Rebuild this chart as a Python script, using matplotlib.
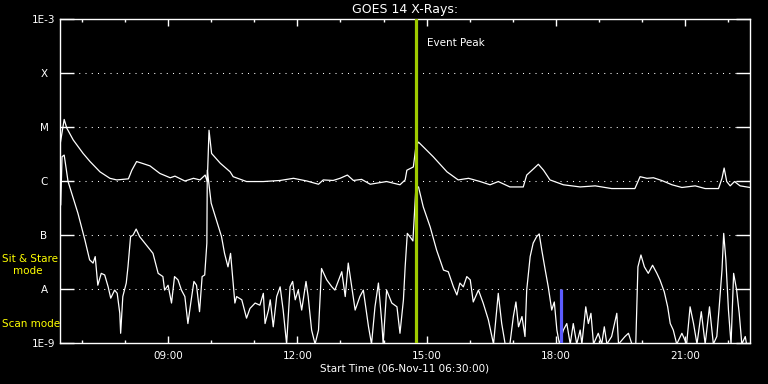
import numpy as np
import matplotlib
matplotlib.use("Agg")
import matplotlib.pyplot as plt
from matplotlib.ticker import FixedLocator, NullLocator

# ---- data (time in decimal hours on 06-Nov-11, flux as log10 W/m^2) ----
long_t = [6.50, 6.59, 6.65, 6.80, 7.03, 7.19, 7.42, 7.65, 7.81, 8.08, 8.16, 8.27, 8.39, 8.58,
          8.81, 9.05, 9.16, 9.39, 9.59, 9.74, 9.86, 9.91, 9.95, 10.01, 10.21, 10.44, 10.51,
          10.82, 11.21, 11.60, 11.91, 12.22, 12.49, 12.60, 12.83, 12.99, 13.16, 13.30, 13.49,
          13.69, 13.84, 14.07, 14.38, 14.50, 14.54, 14.69, 14.75, 14.81, 15.15, 15.47, 15.73,
          15.97, 16.24, 16.47, 16.66, 16.93, 17.24, 17.32, 17.47, 17.59, 17.71, 17.86, 18.17,
          18.56, 18.91, 19.29, 19.83, 19.95, 20.11, 20.26, 20.45, 20.69, 20.92, 21.23, 21.46,
          21.77, 21.85, 21.90, 21.96, 22.04, 22.14, 22.27, 22.50]
long_logflux = [-5.30, -4.86, -5.02, -5.24, -5.49, -5.64, -5.83, -5.95, -5.98, -5.96, -5.80, -5.64,
                -5.67, -5.72, -5.86, -5.94, -5.91, -6.00, -5.95, -5.98, -5.89, -6.01, -5.06, -5.49,
                -5.67, -5.83, -5.92, -6.01, -6.01, -5.99, -5.95, -6.00, -6.06, -5.98, -5.99, -5.95,
                -5.89, -5.99, -5.97, -6.06, -6.04, -6.01, -6.07, -5.98, -5.80, -5.74, -5.36, -5.28,
                -5.55, -5.83, -5.98, -5.95, -6.01, -6.07, -6.01, -6.11, -6.11, -5.89, -5.78, -5.69,
                -5.80, -5.98, -6.07, -6.11, -6.09, -6.14, -6.14, -5.92, -5.95, -5.94, -5.99, -6.07,
                -6.12, -6.09, -6.14, -6.14, -5.95, -5.76, -6.01, -6.09, -6.01, -6.09, -6.12]

short_t = [6.51, 6.54, 6.59, 6.64, 6.68, 6.79, 6.91, 7.07, 7.18, 7.26, 7.31, 7.37, 7.45, 7.53,
           7.61, 7.67, 7.76, 7.82, 7.88, 7.90, 7.95, 8.03, 8.07, 8.13, 8.19, 8.26, 8.34, 8.46,
           8.65, 8.77, 8.88, 8.92, 9.00, 9.08, 9.15, 9.23, 9.31, 9.39, 9.46, 9.53, 9.60, 9.66,
           9.73, 9.79, 9.85, 9.90, 9.91, 10.00, 10.12, 10.24, 10.31, 10.39, 10.45, 10.51, 10.55,
           10.59, 10.71, 10.82, 10.90, 11.02, 11.13, 11.21, 11.25, 11.33, 11.37, 11.44, 11.52,
           11.60, 11.67, 11.75, 11.83, 11.89, 11.95, 12.02, 12.10, 12.20, 12.25, 12.33, 12.41,
           12.49, 12.56, 12.68, 12.80, 12.87, 13.03, 13.11, 13.18, 13.26, 13.34, 13.45, 13.53,
           13.65, 13.72, 13.80, 13.88, 13.96, 13.99, 14.07, 14.19, 14.31, 14.38, 14.46, 14.50,
           14.55, 14.61, 14.68, 14.73, 14.75, 14.81, 14.92, 15.08, 15.23, 15.39, 15.50, 15.62,
           15.70, 15.77, 15.85, 15.93, 16.01, 16.08, 16.20, 16.31, 16.43, 16.55, 16.66, 16.74,
           16.82, 16.93, 17.01, 17.07, 17.13, 17.21, 17.28, 17.32, 17.40, 17.47, 17.55, 17.61,
           17.67, 17.75, 17.82, 17.90, 17.96, 18.02, 18.08, 18.17, 18.25, 18.33, 18.40, 18.48,
           18.56, 18.60, 18.69, 18.75, 18.81, 18.87, 18.98, 19.06, 19.12, 19.18, 19.29, 19.41,
           19.45, 19.60, 19.68, 19.76, 19.85, 19.90, 19.97, 20.05, 20.14, 20.24, 20.34, 20.41,
           20.51, 20.59, 20.65, 20.72, 20.80, 20.92, 21.03, 21.11, 21.19, 21.27, 21.37, 21.46,
           21.56, 21.65, 21.73, 21.78, 21.85, 21.89, 21.94, 22.00, 22.06, 22.12, 22.19, 22.25,
           22.31, 22.39, 22.42]
short_logflux = [-6.44, -5.55, -5.52, -5.80, -6.01, -6.29, -6.60, -7.09, -7.46, -7.52, -7.40, -7.93,
                 -7.71, -7.74, -7.96, -8.17, -8.02, -8.08, -8.45, -8.82, -8.14, -7.89, -7.59, -7.03,
                 -7.00, -6.89, -7.03, -7.15, -7.34, -7.71, -7.77, -8.02, -7.93, -8.26, -7.77, -7.83,
                 -8.02, -8.14, -8.64, -8.24, -7.86, -7.93, -8.42, -7.77, -7.74, -7.15, -5.80, -6.41,
                 -6.72, -7.03, -7.34, -7.59, -7.34, -7.89, -8.26, -8.14, -8.20, -8.54, -8.36, -8.26,
                 -8.30, -8.08, -8.64, -8.39, -8.20, -8.70, -8.14, -7.96, -8.39, -9.02, -7.96, -7.86,
                 -8.20, -8.02, -8.39, -7.86, -8.14, -8.76, -9.02, -8.76, -7.62, -7.83, -7.96, -8.02,
                 -7.68, -8.14, -7.52, -7.96, -8.39, -8.14, -8.02, -8.70, -9.02, -8.33, -7.89, -8.64,
                 -9.02, -8.02, -8.26, -8.33, -8.82, -8.20, -7.59, -6.97, -7.03, -7.11, -6.41, -6.11,
                 -6.11, -6.48, -6.85, -7.28, -7.65, -7.68, -7.96, -8.11, -7.89, -7.96, -7.77, -7.83,
                 -8.24, -8.02, -8.26, -8.57, -9.02, -8.08, -8.64, -9.02, -9.02, -8.51, -8.24, -8.70,
                 -8.51, -8.88, -8.02, -7.40, -7.15, -7.03, -6.98, -7.28, -7.65, -7.96, -8.39, -8.24,
                 -8.76, -9.02, -8.76, -8.64, -9.02, -8.64, -9.02, -8.76, -9.02, -8.33, -8.64, -8.45,
                 -9.02, -8.82, -9.02, -8.70, -9.02, -8.88, -8.45, -9.02, -8.88, -8.82, -9.02, -9.02,
                 -7.59, -7.37, -7.59, -7.71, -7.56, -7.71, -7.83, -8.05, -8.33, -8.64, -8.76, -9.02,
                 -8.82, -9.02, -8.33, -8.64, -9.02, -8.42, -9.02, -8.33, -9.02, -8.88, -8.39, -7.65,
                 -6.97, -7.46, -8.39, -9.02, -7.71, -8.02, -8.45, -9.02, -8.88, -9.02]

event_peak_t = 14.76
scan_marker_t = 18.12
scan_marker_top = 1e-8

y_levels = [1e-9, 1e-8, 1e-7, 1e-6, 1e-5, 1e-4, 1e-3]
y_labels = ["1E-9", "A", "B", "C", "M", "X", "1E-3"]
x_major = [9, 12, 15, 18, 21]
x_labels = ["09:00", "12:00", "15:00", "18:00", "21:00"]
x_minor = list(range(7, 23))

# ---- figure ----
W, H = 768, 384
fig = plt.figure(figsize=(W / 100, H / 100), dpi=100, facecolor="black")
ax = fig.add_axes([60.3 / W, 1 - 343 / H, (750 - 60.3) / W, (343 - 19) / H], facecolor="black")

ax.set_yscale("log")
ax.set_ylim(1e-9, 1e-3)
ax.set_xlim(6.5, 22.5)

ax.plot(long_t, 10 ** np.array(long_logflux), color="white", lw=0.9, zorder=3)
ax.plot(short_t, 10 ** np.array(short_logflux), color="white", lw=0.9, zorder=3)

ax.axvline(event_peak_t, color="#9fcb00", lw=2.3, zorder=4)
ax.vlines(scan_marker_t, 1e-9, scan_marker_top, color="#5c5cff", lw=2.3, zorder=4)

# grid
for lv in y_levels[1:-1]:
    ax.axhline(lv, color="white", lw=0.75, ls=(0, (1, 5)), zorder=1)

for s in ax.spines.values():
    s.set_color("white")
    s.set_linewidth(1.0)

ax.yaxis.set_major_locator(FixedLocator(y_levels))
ax.yaxis.set_minor_locator(NullLocator())
ax.set_yticklabels(y_labels)
ax.xaxis.set_major_locator(FixedLocator(x_major))
ax.xaxis.set_minor_locator(FixedLocator(x_minor))
ax.set_xticklabels(x_labels)

ax.tick_params(axis="y", which="major", direction="in", length=10, width=1.0, color="white",
               left=True, right=True, labelcolor="white", labelsize=7.5, pad=11.7)
ax.tick_params(axis="x", which="major", direction="in", length=5, width=1.0, color="white",
               top=True, bottom=True, labelcolor="white", labelsize=7.5, pad=6)
ax.tick_params(axis="x", which="minor", direction="in", length=2.5, width=1.0, color="white",
               top=True, bottom=True)
for lab in ax.get_yticklabels():
    lab.set_horizontalalignment("center")

# texts
fig.text(405 / W, 1 - 9.5 / H, "GOES 14 X-Rays:", color="white", fontsize=9,
         ha="center", va="center")
fig.text(405 / W, 1 - 368.5 / H, "Start Time (06-Nov-11 06:30:00)", color="white",
         fontsize=7.5, ha="center", va="center")
fig.text(427 / W, 1 - 43.3 / H, "Event Peak", color="white", fontsize=7.5,
         ha="left", va="center")
fig.text(2 / W, 1 - 259 / H, "Sit & Stare", color="#ffff00", fontsize=7.5,
         ha="left", va="center")
fig.text(12.5 / W, 1 - 271 / H, "mode", color="#ffff00", fontsize=7.5,
         ha="left", va="center")
fig.text(2 / W, 1 - 324 / H, "Scan mode", color="#ffff00", fontsize=7.5,
         ha="left", va="center")

fig.savefig("out.png", dpi=100, facecolor="black")
